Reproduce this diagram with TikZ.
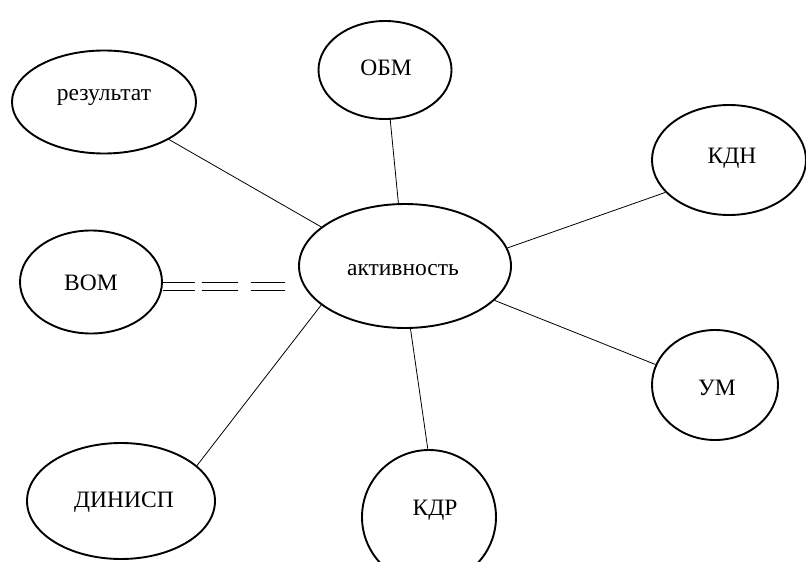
\documentclass[tikz,border=0pt]{standalone}
\usepackage{fontspec}
\setmainfont{Liberation Serif}
\usetikzlibrary{shapes.geometric}
\tikzset{
  ell/.style={draw, ellipse, line width=1.9pt, inner sep=0pt},
  txt/.style={font=\fontsize{23.5}{26}\selectfont, anchor=base, inner sep=0pt},
  link/.style={draw, line width=0.8pt},
  dbl/.style={double, line width=1.1pt, double distance=7pt,
              dash pattern=on 32pt off 7pt on 36pt off 13pt on 40pt},
}
\begin{document}
\begin{tikzpicture}[x=1pt,y=-1pt]
  \useasboundingbox (0,0) rectangle (806,562);
  \node[ell,minimum width=212pt,minimum height=124pt,
        label={[txt,yshift=-4pt,xshift=-2pt]center:активность}] (akt) at (405,266) {};
  \node[ell,minimum width=184pt,minimum height=103pt,
        label={[txt,yshift=5pt]center:результат}] (res) at (104,102) {};
  \node[ell,minimum width=133pt,minimum height=98pt,
        label={[txt,yshift=2pt,xshift=1pt]center:ОБМ}] (obm) at (385,70) {};
  \node[ell,minimum width=154pt,minimum height=110pt,
        label={[txt,yshift=2pt,xshift=3pt]center:КДН}] (kdn) at (729,160) {};
  \node[ell,minimum width=142pt,minimum height=103pt,
        label={[txt,yshift=-1pt]center:ВОМ}] (vom) at (91,282) {};
  \node[ell,minimum width=126pt,minimum height=110pt,
        label={[txt,yshift=-3pt,xshift=2pt]center:УМ}] (um) at (715,385) {};
  \node[ell,minimum width=134pt,minimum height=134pt,
        label={[txt,yshift=7pt,xshift=6pt]center:КДР}] (kdr) at (429,517) {};
  \node[ell,minimum width=188pt,minimum height=116pt,
        label={[txt,yshift=-1pt,xshift=3pt]center:ДИНИСП}] (din) at (121,501) {};
  % links
  \draw[link] (res.330) -- (akt.155);
  \draw[link] (obm.276) -- (akt.96);
  \draw[link] (kdn.207) -- (akt.10);
  \draw[link] (um.161) -- (akt.339);
  \draw[link] (kdr.91) -- (akt.275);
  \draw[link] (din.25) -- (akt.205);
  % double dashed link
  \coordinate (vomend) at (285,286.5);
  \draw[dbl] (vom.east |- vomend) -- (vomend);
\end{tikzpicture}
\end{document}
